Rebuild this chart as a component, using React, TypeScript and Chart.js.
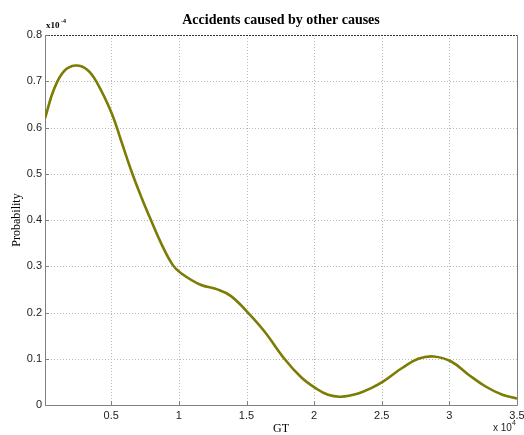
import React, { useEffect, useRef } from "react";
import { Chart, registerables } from "chart.js";

Chart.register(...registerables);

// GT values in units of 10^4
const gtValues = [0.01, 0.074, 0.148, 0.235, 0.322, 0.396, 0.503, 0.57, 0.656, 0.73, 0.793, 0.868, 0.954, 1.016, 1.16, 1.284, 1.383, 1.5, 1.63, 1.78, 1.904, 2.008, 2.103, 2.2, 2.326, 2.425, 2.512, 2.65, 2.77, 2.884, 3.013, 3.144, 3.268, 3.392, 3.5];
// Probability in units of 10^-4
const probValues = [0.62, 0.681, 0.721, 0.734, 0.725, 0.696, 0.631, 0.574, 0.5, 0.444, 0.4, 0.35, 0.303, 0.285, 0.26, 0.25, 0.236, 0.203, 0.16, 0.1, 0.06, 0.037, 0.022, 0.018, 0.025, 0.037, 0.051, 0.08, 0.1, 0.105, 0.094, 0.065, 0.04, 0.022, 0.014];

const xTicks = [0.5, 1, 1.5, 2, 2.5, 3, 3.5];
const yTicks = [0, 0.1, 0.2, 0.3, 0.4, 0.5, 0.6, 0.7, 0.8];

const titleText = "Accidents caused by other causes";
const xLabel = "GT";
const yLabel = "Probability";

const decorPlugin = {
  id: "decor",
  beforeDatasetsDraw(chart: any) {
    const ctx = chart.ctx;
    const { left, right, top, bottom } = chart.chartArea;
    const xs = chart.scales.x;
    const ys = chart.scales.y;
    ctx.save();
    ctx.strokeStyle = "#b8b8b8";
    ctx.lineWidth = 1;
    ctx.setLineDash([1, 2]);
    xTicks.forEach((v) => {
      const px = Math.round(xs.getPixelForValue(v)) + 0.5;
      ctx.beginPath();
      ctx.moveTo(px, top);
      ctx.lineTo(px, bottom);
      ctx.stroke();
    });
    yTicks.forEach((v) => {
      const py = Math.round(ys.getPixelForValue(v)) + 0.5;
      ctx.beginPath();
      ctx.moveTo(left, py);
      ctx.lineTo(right, py);
      ctx.stroke();
    });
    ctx.setLineDash([]);
    // box
    ctx.strokeStyle = "#808080";
    ctx.beginPath();
    ctx.moveTo(Math.round(left) + 0.5, top);
    ctx.lineTo(Math.round(left) + 0.5, Math.round(bottom) + 0.5);
    ctx.lineTo(Math.round(right) + 0.5, Math.round(bottom) + 0.5);
    ctx.lineTo(Math.round(right) + 0.5, top);
    ctx.stroke();
    ctx.strokeStyle = "#333";
    ctx.setLineDash([2, 1]);
    ctx.beginPath();
    ctx.moveTo(left, Math.round(top) + 0.5);
    ctx.lineTo(right, Math.round(top) + 0.5);
    ctx.stroke();
    ctx.setLineDash([]);
    // inward tick marks
    ctx.strokeStyle = "#808080";
    xTicks.forEach((v) => {
      const px = Math.round(xs.getPixelForValue(v)) + 0.5;
      ctx.beginPath();
      ctx.moveTo(px, bottom);
      ctx.lineTo(px, bottom - 4);
      ctx.stroke();
    });
    yTicks.forEach((v) => {
      const py = Math.round(ys.getPixelForValue(v)) + 0.5;
      ctx.beginPath();
      ctx.moveTo(left, py);
      ctx.lineTo(left + 4, py);
      ctx.stroke();
    });
    ctx.restore();
  },
  afterDraw(chart: any) {
    const ctx = chart.ctx;
    const { left, right, top, bottom } = chart.chartArea;
    const cx = (left + right) / 2;
    ctx.save();
    ctx.fillStyle = "#000";
    ctx.textAlign = "center";
    ctx.textBaseline = "alphabetic";
    ctx.font = "bold 14px 'Liberation Serif'";
    ctx.fillText(titleText, cx, 24);
    ctx.font = "12px 'Liberation Serif'";
    ctx.fillText(xLabel, cx, 432);
    // y label
    ctx.save();
    ctx.translate(20, (top + bottom) / 2);
    ctx.rotate(-Math.PI / 2);
    ctx.fillText(yLabel, 0, 0);
    ctx.restore();
    // y exponent
    ctx.textAlign = "left";
    ctx.font = "bold 9px 'Liberation Serif'";
    ctx.fillText("x10", left + 1, top - 7);
    ctx.font = "bold 6px 'Liberation Serif'";
    ctx.fillText("-4", left + 16, top - 12);
    // x exponent
    ctx.font = "10px 'Liberation Sans'";
    ctx.fillStyle = "#222";
    ctx.fillText("x 10", right - 24, 431);
    ctx.font = "7px 'Liberation Sans'";
    ctx.fillText("4", right - 5, 425);
    ctx.restore();
  },
};

export default function App() {
  const ref = useRef<HTMLCanvasElement>(null);
  useEffect(() => {
    document.body.style.margin = "0";
    const chart = new Chart(ref.current!, {
      type: "line",
      data: {
        datasets: [
          {
            data: gtValues.map((x, i) => ({ x, y: probValues[i] })),
            borderColor: "#7c7c04",
            borderWidth: 2.6,
            pointRadius: 0,
            tension: 0.4,
            fill: false,
          },
        ],
      },
      options: {
        animation: false,
        responsive: false,
        maintainAspectRatio: false,
        layout: { padding: { left: 0, right: 7, top: 35, bottom: 0 } },
        plugins: { legend: { display: false }, tooltip: { enabled: false }, title: { display: false } },
        scales: {
          x: {
            type: "linear",
            min: 0.01,
            max: 3.5,
            grid: { display: false, drawTicks: false },
            border: { display: false },
            afterBuildTicks: (s: any) => {
              s.ticks = xTicks.map((v) => ({ value: v }));
            },
            afterFit: (s: any) => {
              s.height = 30;
              s.paddingLeft = 0;
              s.paddingRight = 0;
            },
            ticks: {
              padding: 4,
              maxRotation: 0,
              autoSkip: false,
              color: "#222",
              font: { family: "'Liberation Sans'", size: 11 },
              callback: (v: any) => String(v),
            },
          },
          y: {
            type: "linear",
            min: 0,
            max: 0.8,
            grid: { display: false, drawTicks: false },
            border: { display: false },
            afterBuildTicks: (s: any) => {
              s.ticks = yTicks.map((v) => ({ value: v }));
            },
            afterFit: (s: any) => {
              s.width = 45;
              s.paddingTop = 0;
              s.paddingBottom = 0;
            },
            ticks: {
              padding: 3,
              autoSkip: false,
              color: "#222",
              font: { family: "'Liberation Sans'", size: 11 },
              callback: (v: any) => String(Math.round(v * 10) / 10),
            },
          },
        },
      },
      plugins: [decorPlugin],
    } as any);
    return () => chart.destroy();
  }, []);
  return (
    <div style={{ position: "absolute", left: 0, top: 0, width: 524, height: 435, background: "#fff" }}>
      <canvas ref={ref} width={524} height={435} />
    </div>
  );
}
